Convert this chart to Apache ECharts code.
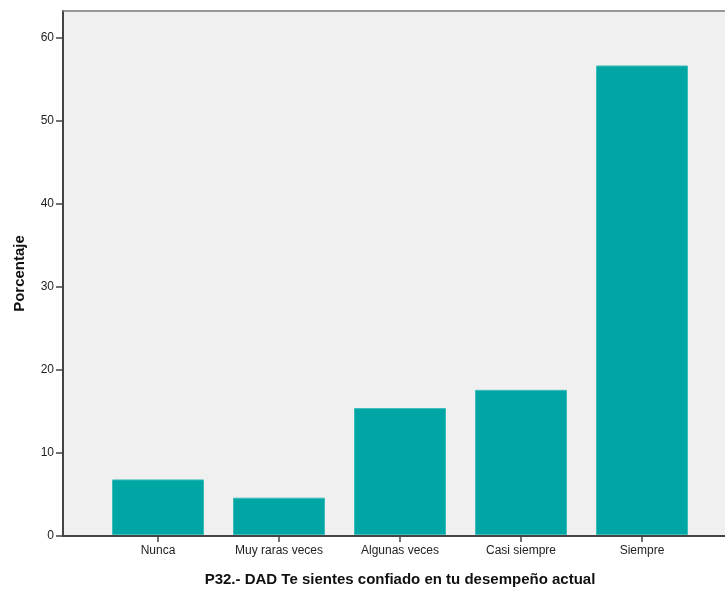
<!DOCTYPE html>
<html>
<head>
<meta charset="utf-8">
<script src="https://cdn.jsdelivr.net/npm/echarts@6/dist/echarts.min.js"></script>
<style>html,body{margin:0;padding:0;background:#fff}#c{width:725px;height:592px}</style>
</head>
<body>
<div id="c"></div>
<script>
const categories = ['Nunca', 'Muy raras veces', 'Algunas veces', 'Casi siempre', 'Siempre'];
const values = [6.7, 4.5, 15.3, 17.5, 56.6];
const yTicks = [0, 10, 20, 30, 40, 50, 60];
const xTitle = 'P32.- DAD Te sientes confiado en tu desempeño actual';
const yTitle = 'Porcentaje';

const chart = echarts.init(document.getElementById('c'));
const yMax = 63.17;
const font = 'Liberation Sans, Arial, sans-serif';
chart.setOption({
  animation: false,
  grid: [
    {left: 63, right: 0, top: 11, bottom: 56, show: true, backgroundColor: '#f0f0f0', borderWidth: 0},
    {left: 97.5, right: 22.5, top: 11, bottom: 56}
  ],
  xAxis: [
    {type: 'value', gridIndex: 0, min: 0, max: 1, show: true,
     axisLine: {show: true, onZero: false, lineStyle: {color: '#444', width: 2}},
     axisTick: {show: false}, axisLabel: {show: false}, splitLine: {show: false}},
    {type: 'category', gridIndex: 1, data: categories,
     axisLine: {show: false},
     axisTick: {show: true, alignWithLabel: true, length: 7, lineStyle: {color: '#444', width: 1.5}},
     axisLabel: {color: '#222', fontSize: 12, fontFamily: font, margin: 10},
     name: xTitle, nameLocation: 'middle', nameGap: 37,
     nameTextStyle: {color: '#111', fontSize: 15, fontWeight: 'bold', fontFamily: font}},
    {type: 'value', gridIndex: 0, position: 'top', min: 0, max: 1, show: true,
     axisLine: {show: true, onZero: false, lineStyle: {color: '#7a7a7a', width: 1.5}},
     axisTick: {show: false}, axisLabel: {show: false}, splitLine: {show: false}}
  ],
  yAxis: [
    {type: 'value', gridIndex: 0, min: 0, max: yMax, interval: 10,
     axisLine: {show: true, lineStyle: {color: '#444', width: 2}},
     axisTick: {show: true, inside: false, length: 7, customValues: yTicks, lineStyle: {color: '#444', width: 1.5}},
     axisLabel: {color: '#222', fontSize: 12, fontFamily: font, margin: 9, customValues: yTicks},
     splitLine: {show: false},
     name: yTitle, nameLocation: 'middle', nameGap: 36, nameRotate: 90,
     nameTextStyle: {color: '#111', fontSize: 15, fontWeight: 'bold', fontFamily: font}},
    {type: 'value', gridIndex: 1, min: 0, max: yMax, show: false, splitLine: {show: false}}
  ],
  series: [{
    type: 'bar', xAxisIndex: 1, yAxisIndex: 1, data: values, barWidth: 92,
    itemStyle: {color: '#00a6a3', borderColor: '#3dbdba', borderWidth: 1}
  }]
});
</script>
</body>
</html>
